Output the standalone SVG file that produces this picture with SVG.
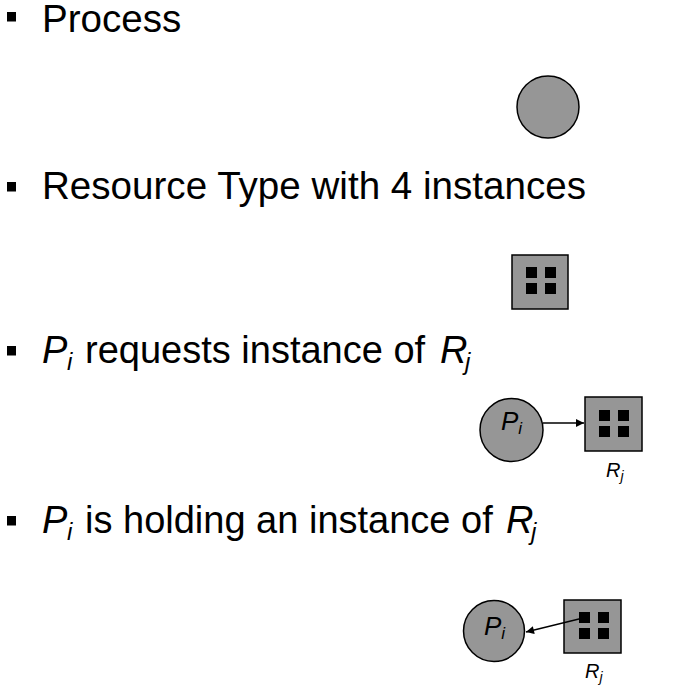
<svg xmlns="http://www.w3.org/2000/svg" width="683" height="699" viewBox="0 0 683 699">
<defs>
<style>
text{font-family:"Liberation Sans",Arial,sans-serif;fill:#000}
.big{font-size:38.6px}
.mid{font-size:38px}
.it{font-style:italic}
.sub{font-size:24px;font-style:italic}
.lbl{font-size:26px;font-style:italic}
.lsub{font-size:17px;font-style:italic}
.rl{font-size:20px;font-style:italic}
.rsub{font-size:14px;font-style:italic}
.proc{fill:#969696;stroke:#000;stroke-width:1.5}
.res{fill:#969696;stroke:#000;stroke-width:1.5}
.inst{fill:#000}
.bul{fill:#000}
.edge{stroke:#000;stroke-width:1.3;fill:none}
</style>
<marker id="ah" viewBox="0 0 10 10" refX="10" refY="5" markerWidth="10" markerHeight="8" markerUnits="userSpaceOnUse" orient="auto">
<path d="M0,0 L10,5 L0,10 z" fill="#000"/>
</marker>
<g id="inst4">
<rect class="inst" x="14" y="12" width="11" height="11"/>
<rect class="inst" x="33" y="12" width="11" height="11"/>
<rect class="inst" x="14" y="28" width="11" height="11"/>
<rect class="inst" x="33" y="28" width="11" height="11"/>
</g>
</defs>
<rect width="683" height="699" fill="#fff"/>

<g id="bullets">
<rect class="bul" x="7" y="12" width="9" height="9.5"/>
<rect class="bul" x="7" y="182" width="9" height="9.5"/>
<rect class="bul" x="7" y="346" width="9" height="9.5"/>
<rect class="bul" x="7" y="516" width="9" height="9.5"/>
</g>

<g id="line1"><text class="big" x="42" y="31.5">Process</text></g>
<g id="line2"><text class="big" x="42" y="199">Resource Type with 4 instances</text></g>
<g id="line3">
<text class="mid" y="363"><tspan class="it" x="42">P</tspan><tspan class="sub" x="67" dy="7">i</tspan><tspan x="85" dy="-7">requests instance of</tspan><tspan class="it" x="440">R</tspan><tspan class="sub" x="465" dy="7">j</tspan></text>
</g>
<g id="line4">
<text class="mid" y="533"><tspan class="it" x="42">P</tspan><tspan class="sub" x="67" dy="7">i</tspan><tspan x="85" dy="-7">is holding an instance of</tspan><tspan class="it" x="506">R</tspan><tspan class="sub" x="531" dy="7">j</tspan></text>
</g>

<g id="process-symbol"><circle class="proc" cx="548" cy="107" r="31"/></g>
<g id="resource-symbol">
<rect class="res" x="512" y="255" width="56" height="54"/>
<use href="#inst4" x="512" y="255"/>
</g>

<g id="req-Pi">
<circle class="proc" cx="511.5" cy="430" r="31.5"/>
<text class="lbl" x="501" y="430">P<tspan class="lsub" dy="4">i</tspan></text>
</g>
<g id="req-Rj">
<rect class="res" x="585" y="397" width="57" height="54"/>
<use href="#inst4" x="585" y="398"/>
<text class="rl" x="606" y="477">R<tspan class="rsub" dy="4">j</tspan></text>
</g>

<g id="hold-Pi">
<circle class="proc" cx="494" cy="631" r="30.5"/>
<text class="lbl" x="484" y="635">P<tspan class="lsub" dy="4">i</tspan></text>
</g>
<g id="hold-Rj">
<rect class="res" x="564" y="600" width="57" height="53"/>
<use href="#inst4" x="565" y="600"/>
<text class="rl" x="585" y="678">R<tspan class="rsub" dy="4">j</tspan></text>
</g>

<g id="connectors">
<line class="edge" x1="543" y1="423" x2="584" y2="423" marker-end="url(#ah)"/>
<line class="edge" x1="583" y1="618" x2="526" y2="632" marker-end="url(#ah)"/>
</g>
</svg>
